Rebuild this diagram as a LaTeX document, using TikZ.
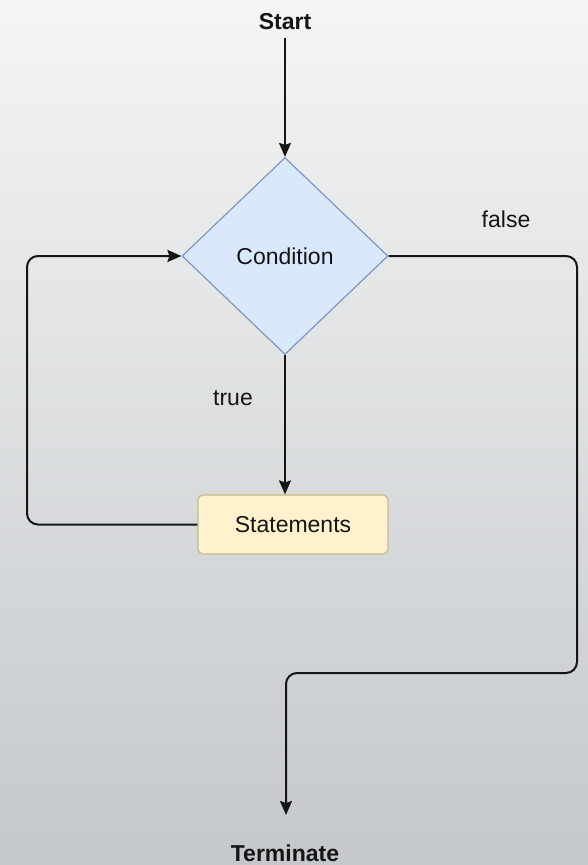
\documentclass[tikz,border=0pt]{standalone}
\usepackage{fontspec}
\setmainfont{Liberation Sans}
\usetikzlibrary{arrows.meta,shapes.geometric}
\definecolor{bgtop}{HTML}{F4F5F5}
\definecolor{bgbot}{HTML}{C4C8CB}
\definecolor{condfill}{HTML}{DAE8FC}
\definecolor{conddraw}{HTML}{7F97BD}
\definecolor{stmtfill}{HTML}{FFF2CC}
\definecolor{stmtdraw}{HTML}{C9B98A}
\definecolor{ink}{HTML}{151515}
\tikzset{
  lbl/.style={font=\fontsize{23}{27}\selectfont, text=ink, inner sep=0pt},
  blbl/.style={lbl, font=\fontsize{23}{27}\selectfont\bfseries},
  arr/.style={draw=ink, line width=2pt, -{Stealth[length=14pt,width=12pt,inset=2pt]}},
  condbox/.style={diamond, draw=conddraw, line width=1.2pt, fill=condfill, minimum width=206pt, minimum height=197pt, inner sep=0pt, font=\fontsize{23}{27}\selectfont, text=ink},
  stmtbox/.style={rectangle, rounded corners=5pt, draw=stmtdraw, line width=1.2pt, fill=stmtfill, minimum width=190pt, minimum height=59pt, inner sep=0pt, font=\fontsize{23}{27}\selectfont, text=ink}
}
\begin{document}
\begin{tikzpicture}[x=1pt,y=-1pt]
\shade[top color=bgtop, bottom color=bgbot] (0,0) rectangle (588,865);
\useasboundingbox (0,0) rectangle (588,865);

\node[blbl, anchor=base] (start) at (285,29) {Start};
\node[condbox] (cond) at (285,256) {Condition};
\node[stmtbox] (stmt) at (293,524.5) {Statements};
\node[blbl, anchor=base] (term) at (285,861) {Terminate};

\node[lbl, anchor=base] (lfalse) at (506,227) {false};
\node[lbl, anchor=base] (ltrue) at (233,405) {true};

\coordinate (startend) at (285,38);
\coordinate (termtip) at (286,815);
\coordinate (loopx) at (27,400);
\coordinate (falsex) at (577,673);

\draw[arr] (startend) -- (cond.north);
\draw[arr] (cond.south) -- (cond.south |- stmt.north);
\draw[arr, rounded corners=11pt] (stmt.west) -| (loopx) |- (cond.west);
\draw[arr, rounded corners=11pt] (cond.east) -| (falsex) -| (termtip);
\end{tikzpicture}
\end{document}
